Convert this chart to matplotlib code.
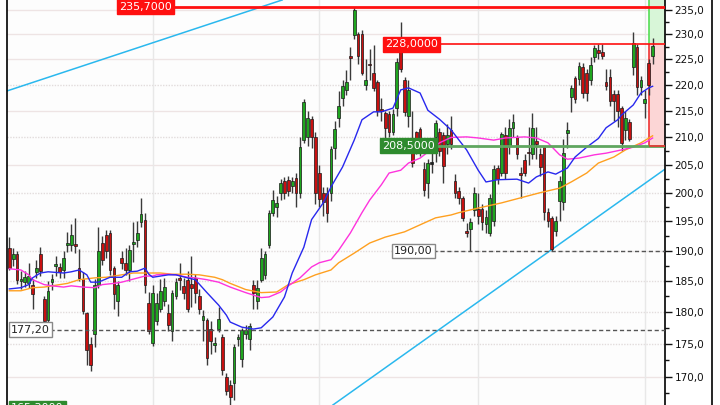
import matplotlib
matplotlib.use('Agg')
import matplotlib.pyplot as plt
import numpy as np
from matplotlib.ticker import FixedLocator, FuncFormatter, NullFormatter
from matplotlib.lines import Line2D

# daily candles, oldest first
opens = [190.5, 188.7, 189.5, 185.0, 184.8, 184.7, 184.3, 186.5, 189.5, 182.0,
         178.8, 184.8, 187.5, 187.3, 186.8, 191.0, 191.0, 191.2, 187.2, 185.3,
         179.8, 175.0, 176.5, 184.3, 191.3, 192.6, 193.0, 187.2, 181.8, 188.8,
         188.0, 186.8, 191.2, 191.8, 194.8, 195.2, 181.5, 175.2, 178.5, 180.5,
         181.7, 179.9, 177.0, 182.5, 185.4, 184.2, 185.2, 184.5, 185.5, 182.5,
         178.8, 178.8, 177.3, 174.9, 177.3, 176.0, 170.0, 168.8,
         169.0, 175.7, 172.6, 176.6, 175.8, 184.4, 181.8, 185.2, 186.0, 191.0,
         196.5, 197.5, 200.0, 202.0, 202.3, 201.2, 202.6, 200.0, 209.5, 210.0,
         213.5, 210.0, 203.5, 200.0, 200.0, 200.0, 208.0, 213.6, 217.4, 219.0,
         225.5, 229.9, 230.0, 230.0, 220.0, 224.0, 222.2, 220.6, 215.2, 214.5,
         214.3, 211.0, 215.6, 227.3, 221.0, 214.0, 209.5, 211.0, 211.5, 204.2,
         201.8, 205.3, 210.0, 211.0,
         210.5, 208.7, 211.3, 202.0, 200.3, 199.0, 193.4, 193.6, 197.0, 197.2,
         197.2, 194.5, 193.0, 195.0, 204.4, 203.5, 210.5, 208.5, 211.7, 210.0,
         203.4, 205.8, 207.3, 207.0, 209.3, 207.0, 208.3, 196.7, 195.6, 193.4,
         198.5, 198.3, 210.9, 217.7, 221.3, 221.2, 223.5, 222.3, 220.9, 225.5,
         226.9, 226.5, 220.5, 221.6, 218.2, 218.2, 215.6, 211.3, 212.9, 223.4,
         227.5, 219.5, 216.4, 224.3, 225.6]
highs = [192.4, 190.5, 190.0, 186.7, 186.7, 188.0, 185.3, 188.5, 190.6, 182.5,
         185.0, 186.2, 189.2, 188.0, 190.0, 193.2, 194.5, 195.5, 190.3, 186.5,
         180.0, 176.0, 185.3, 194.0, 192.5, 193.5, 193.5, 187.5, 185.0, 190.0,
         190.5, 191.0, 194.8, 195.0, 199.0, 196.5, 183.2, 184.4, 183.0, 185.3,
         185.5, 181.2, 183.5, 185.4, 188.0, 185.5, 186.7, 189.2, 186.2, 183.7,
         180.3, 179.0, 178.5, 176.0, 180.8, 176.5, 170.5, 169.5,
         175.0, 176.6, 177.5, 178.0, 178.3, 185.2, 185.2, 190.5, 190.0, 197.0,
         200.5, 199.5, 202.5, 202.8, 203.0, 202.8, 203.5, 210.0, 217.3, 215.0,
         214.0, 211.0, 205.0, 201.0, 201.0, 208.5, 213.0, 218.7, 221.0, 222.8,
         227.5, 235.7, 230.5, 230.8, 225.0, 227.0, 227.8, 221.0, 217.5, 215.0,
         215.0, 215.3, 225.3, 232.5, 221.5, 221.0, 215.0, 211.2, 212.0, 205.5,
         206.0, 207.8, 213.2, 211.8,
         211.0, 212.5, 214.0, 203.3, 201.0, 199.5, 194.7, 195.5, 201.0, 200.0,
         198.0, 197.0, 199.8, 205.0, 205.0, 211.0, 212.0, 213.5, 214.3, 210.5,
         204.5, 207.0, 212.0, 214.5, 212.0, 208.0, 208.5, 197.3, 196.0, 196.0,
         203.0, 209.8, 212.8, 220.0, 221.8, 224.5, 224.3, 223.0, 225.5, 227.9,
         228.0, 228.0, 223.0, 223.0, 219.0, 219.0, 216.0, 215.0, 213.5, 230.5,
         228.0, 221.7, 219.0, 225.0, 229.3]
lows = [186.8, 187.5, 184.5, 183.7, 184.0, 183.8, 180.5, 185.5, 185.8, 177.8,
        178.3, 183.5, 185.8, 185.5, 185.5, 189.8, 190.0, 189.6, 185.0, 179.7,
        171.8, 170.8, 174.5, 183.8, 187.6, 188.8, 186.0, 180.5, 179.3, 187.0,
        186.0, 185.0, 188.2, 190.7, 194.0, 183.0, 176.5, 174.6, 178.0, 180.0,
        181.0, 177.0, 175.5, 182.0, 183.5, 182.0, 180.0, 180.8, 181.5, 179.7,
        175.5, 171.8, 173.5, 173.7, 176.8, 170.3, 167.3, 165.3,
        166.5, 174.7, 171.5, 175.8, 174.0, 180.4, 180.5, 184.8, 185.3, 190.5,
        196.0, 195.8, 198.7, 198.8, 199.5, 200.0, 197.5, 199.0, 209.0, 208.5,
        208.0, 198.0, 197.5, 196.0, 194.8, 198.5, 206.0, 212.0, 216.0, 218.0,
        221.0, 229.0, 224.0, 222.0, 219.0, 221.0, 218.8, 214.0, 213.0, 209.5,
        210.0, 210.5, 214.0, 222.5, 214.0, 212.0, 204.5, 207.0, 206.5, 199.5,
        199.0, 203.5, 205.5, 206.5,
        201.8, 207.0, 207.8, 199.0, 198.0, 195.0, 192.4, 190.0, 196.0, 194.5,
        193.5, 193.0, 192.5, 194.2, 201.5, 203.0, 202.5, 207.0, 210.0, 206.0,
        199.0, 203.0, 205.0, 206.0, 206.0, 203.0, 195.3, 194.0, 190.0, 192.5,
        195.0, 197.0, 208.0, 214.7, 216.5, 220.0, 217.5, 216.8, 220.0, 224.5,
        225.0, 225.0, 219.0, 216.0, 213.0, 212.0, 207.5, 209.5, 209.3, 222.0,
        218.0, 218.0, 213.7, 218.0, 224.0]
closes = [187.2, 189.5, 185.2, 185.2, 185.6, 185.8, 182.8, 187.2, 186.7, 178.5,
          183.3, 185.3, 187.7, 186.5, 188.8, 191.2, 192.6, 190.8, 185.5, 180.2,
          174.0, 171.8, 184.3, 190.0, 188.5, 190.0, 186.8, 182.8, 184.3, 188.0,
          186.8, 190.2, 191.4, 193.0, 196.2, 184.4, 177.0, 183.0, 181.5, 183.3,
          184.0, 178.0, 183.0, 184.9, 185.2, 183.0, 180.5, 183.8, 183.0, 180.5,
          179.3, 172.8, 175.5, 175.1, 178.9, 171.0, 167.8, 167.0,
          174.5, 175.9, 177.1, 177.2, 177.8, 183.0, 183.8, 188.8, 189.5, 196.5,
          198.7, 198.2, 201.8, 200.0, 200.3, 202.1, 200.0, 208.3, 216.6, 213.7,
          210.0, 200.0, 198.8, 198.3, 196.5, 207.8, 211.6, 216.0, 219.7, 220.5,
          225.3, 235.0, 225.6, 222.3, 221.0, 223.8, 219.3, 215.0, 215.0, 211.7,
          211.0, 214.4, 224.5, 223.1, 214.7, 219.0, 205.3, 208.0, 208.8, 200.5,
          205.3, 205.2, 212.7, 207.5,
          204.8, 210.5, 208.7, 200.0, 199.0, 195.5, 193.0, 194.8, 200.0, 196.0,
          194.8, 195.7, 199.0, 204.2, 202.5, 210.7, 203.5, 211.7, 212.8, 207.0,
          203.2, 203.5, 207.1, 211.7, 208.7, 204.5, 196.7, 195.0, 190.3, 195.0,
          202.0, 207.2, 211.3, 219.4, 217.3, 223.6, 218.4, 218.4, 223.9, 227.3,
          226.2, 225.6, 219.7, 216.8, 216.8, 215.0, 209.0, 213.7, 209.8, 228.2,
          219.5, 221.0, 217.3, 220.0, 227.7]

# moving averages (candle index, price)
ma_fast_idx = [0, 3, 5, 6, 8, 10, 14, 16, 18, 20, 21, 23, 26, 29, 31, 33, 35, 36, 37,
               39, 41, 43, 46, 48, 51, 54, 56, 57, 60, 63, 65, 68, 71, 73, 76, 78, 81,
               83, 86, 89, 91, 94, 96, 99, 101, 103, 106, 108, 111, 114, 118, 121, 123,
               126, 131, 134, 136, 139, 141, 144, 146, 149, 152, 154, 157, 158, 161,
               163, 165, 166]
ma_fast = [183.7, 183.9, 184.4, 185.5, 186.3, 186.5, 186.3, 186.5, 186.8, 186.0,
           184.8, 184.8, 185.6, 185.6, 186.5, 186.6, 187.1, 186.1, 185.6, 185.8,
           186.0, 186.0, 185.5, 185.2, 183.1, 181.1, 179.5, 178.4, 177.6, 177.3,
           177.5, 179.2, 182.4, 186.3, 190.6, 195.3, 198.2, 201.0, 204.6, 209.5,
           213.3, 214.8, 214.8, 215.5, 219.0, 219.4, 218.4, 215.1, 213.4, 211.4,
           207.7, 204.0, 201.9, 202.3, 202.4, 201.7, 202.8, 203.7, 203.3, 204.4,
           206.4, 208.2, 209.8, 211.8, 213.3, 214.2, 216.1, 218.4, 219.4, 219.7]
ma_mid_idx = [0, 3, 5, 6, 9, 11, 14, 16, 19, 22, 24, 27, 29, 32, 35, 37, 38, 41, 43,
              46, 48, 51, 54, 57, 61, 65, 67, 70, 72, 75, 78, 80, 83, 85, 88, 91, 93,
              96, 98, 101, 103, 106, 108, 111, 114, 118, 121, 125, 128, 133, 136,
              139, 142, 144, 147, 151, 154, 158, 161, 164, 166]
ma_mid = [187.0, 186.8, 186.0, 185.2, 184.4, 184.2, 184.0, 184.2, 184.0, 183.9,
          184.4, 184.6, 184.8, 185.3, 185.8, 185.8, 186.0, 186.1, 186.0, 185.6,
          185.5, 185.2, 184.8, 184.0, 183.1, 182.3, 182.4, 183.2, 184.2, 185.5,
          187.3, 188.0, 188.5, 190.1, 193.0, 196.5, 198.7, 201.4, 203.5, 204.0,
          205.3, 206.2, 207.3, 209.0, 210.0, 210.1, 209.9, 209.5, 209.9, 210.1,
          209.9, 209.0, 206.8, 206.0, 206.2, 206.8, 207.1, 207.7, 208.2, 209.0,
          209.9]
ma_slow_idx = [0, 3, 6, 9, 11, 15, 18, 22, 25, 29, 32, 36, 39, 42, 46, 49, 53, 55, 57,
               61, 65, 69, 72, 76, 79, 83, 85, 89, 93, 97, 102, 106, 110, 114, 116,
               121, 127, 132, 137, 142, 145, 149, 152, 156, 159, 163, 166]
ma_slow = [183.4, 183.4, 183.9, 184.0, 184.2, 184.6, 185.2, 185.5, 185.6, 186.0,
           186.3, 186.3, 186.3, 186.1, 186.1, 186.0, 185.6, 185.2, 184.6, 183.6,
           183.1, 183.2, 184.4, 185.2, 186.0, 186.8, 188.0, 189.6, 191.3, 192.3,
           193.2, 194.4, 195.6, 196.1, 196.5, 197.3, 198.2, 199.1, 200.0, 200.8,
           201.9, 203.5, 205.3, 206.4, 207.7, 209.0, 210.3]

# trend lines (candle index, price)
trend_up_x = [-0.6, 70.4]
trend_up_y = [218.8, 237.1]
trend_lo_x = [83.5, 169.2]
trend_lo_y = [165.8, 204.2]

month_lines = [37, 80, 121, 164]
yticks = [170, 175, 180, 185, 190, 195, 200, 205, 210, 215, 220, 225, 230, 235]
yminor = [167.5, 172.5, 177.5, 182.5, 187.5, 192.5, 197.5, 202.5, 207.5, 212.5,
          217.5, 222.5, 227.5, 232.5, 237.5]

fig = plt.figure(figsize=(7.2, 4.05), dpi=100, facecolor='white')
ax = fig.add_axes([7 / 720, 0, 658 / 720, 1])
ax.set_facecolor('#fdfdfd')
ax.set_yscale('log')
ax.set_xlim(-0.6, 169.2)
ax.set_ylim(165.8, 237.1)

# grid
for v in yticks:
    dotted = v in (220, 210, 200, 195, 190, 185, 180, 175)
    ax.axhline(v, color='#e2dcdc' if dotted else '#eee4e4',
               lw=1.0, ls=(0, (1, 1)) if dotted else '-', zorder=0)
for m in month_lines:
    ax.axvline(m, color='#e8e8e8', lw=1.0, zorder=0)

# stop / target boxes at the right edge
ax.fill_between([165.2, 169.2], 228, 237.1, color='#d8f6d8', lw=0, zorder=1)
ax.fill_between([165.2, 169.2], 208.5, 228, color='#fcd6d6', lw=0, zorder=1)
ax.vlines(165.2, 228, 237.1, color='#55dd55', lw=1.2, zorder=2)
ax.vlines(165.2, 208.5, 228, color='#ee3333', lw=1.2, zorder=2)

# trend lines
ax.plot(trend_up_x, trend_up_y, color='#2ab8ee', lw=1.1, zorder=2)
ax.plot(trend_lo_x, trend_lo_y, color='#2ab8ee', lw=1.1, zorder=2)

# candles
x = np.arange(len(closes))
o = np.array(opens); h = np.array(highs); l = np.array(lows); c = np.array(closes)
ax.vlines(x, l, h, color='#3a3a3a', lw=1.0, zorder=3)
cols = np.where(c > o + 0.15, '#1fa61f', np.where(c < o - 0.15, '#c81010', '#222222'))
bottoms = np.minimum(o, c)
heights = np.maximum(np.abs(c - o), 0.3)
ax.bar(x, heights, bottom=bottoms, width=0.72, color=cols, edgecolor='#1a1a1a',
       lw=0.5, zorder=4)

# moving averages
ax.plot(ma_slow_idx, ma_slow, color='#ffa020', lw=1.0, zorder=5)
ax.plot(ma_mid_idx, ma_mid, color='#ff33dd', lw=1.0, zorder=5)
ax.plot(ma_fast_idx, ma_fast, color='#2828ee', lw=1.0, zorder=5)

# price levels
ax.hlines(235.7, 42.5, 169.2, color='#ff1010', lw=2.0, zorder=6)
ax.hlines(228.0, 111.4, 169.2, color='#ff1010', lw=1.2, zorder=6)
ax.hlines(208.5, 110.4, 169.2, color='#5fa65f', lw=2.0, zorder=6)
ax.hlines(208.5, 165.2, 169.2, color='#ee3333', lw=1.2, zorder=6)
ax.hlines(190.0, 109.3, 169.2, color='#555555', lw=1.0, ls=(0, (3, 2)), zorder=6)
ax.hlines(177.2, 10.5, 169.2, color='#555555', lw=1.0, ls=(0, (3, 2)), zorder=6)

def tag(xi, y, s, bg, fg, ec=None):
    ax.text(xi, y, s, color=fg, fontsize=8, ha='left', va='center', zorder=8,
            bbox=dict(boxstyle='square,pad=0.2', facecolor=bg,
                      edgecolor=ec if ec else bg, lw=1))

tag(28.3, 235.7, '235,7000', '#ff1010', 'white')
tag(96.9, 228.0, '228,0000', '#ff1010', 'white')
tag(96.1, 208.5, '208,5000', '#2e8b2e', 'white')
tag(99.2, 190.0, '190,00', 'white', '#222222', '#888888')
tag(0.4, 177.2, '177,20', 'white', '#222222', '#888888')
tag(0.4, 165.3, '165,3000', '#2e8b2e', 'white')

# right axis
ax.yaxis.tick_right()
ax.yaxis.set_major_locator(FixedLocator(yticks))
ax.yaxis.set_major_formatter(FuncFormatter(lambda v, p: f'{v:.1f}'.replace('.', ',')))
ax.yaxis.set_minor_locator(FixedLocator(yminor))
ax.yaxis.set_minor_formatter(NullFormatter())
ax.tick_params(axis='y', which='major', length=5, width=1, labelsize=7.5,
               colors='#111111', pad=2)
ax.tick_params(axis='y', which='minor', length=3, width=1, colors='#111111')
ax.set_xticks([])
for side in ('top', 'bottom'):
    ax.spines[side].set_visible(False)
for side in ('left', 'right'):
    ax.spines[side].set_color('black')
    ax.spines[side].set_linewidth(1.2)

fig.add_artist(Line2D([711.5 / 720] * 2, [0, 1], color='black', lw=1.2))

fig.savefig('out.png', dpi=100, facecolor='white')
